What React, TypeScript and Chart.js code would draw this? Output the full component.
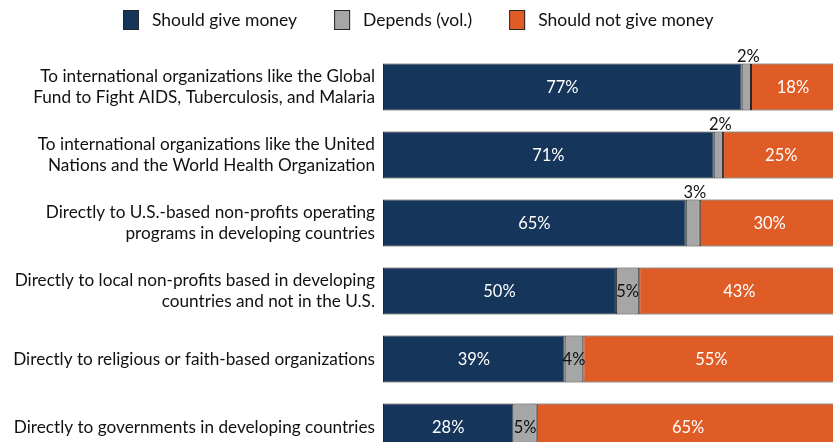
import React, { useEffect, useRef } from "react";
import { Chart, registerables } from "chart.js";

Chart.register(...registerables);

const categories: string[][] = [
  ["To international organizations like the Global", "Fund to Fight AIDS, Tuberculosis, and Malaria"],
  ["To international organizations like the United", "Nations and the World Health Organization"],
  ["Directly to U.S.-based non-profits operating", "programs in developing countries"],
  ["Directly to local non-profits based in developing", "countries and not in the U.S."],
  ["Directly to religious or faith-based organizations"],
  ["Directly to governments in developing countries"],
];
const seriesNames = ["Should give money", "Depends (vol.)", "Should not give money"];
const shouldGive = [77, 71, 65, 50, 39, 28];
const depends = [2, 2, 3, 5, 4, 5];
const shouldNotGive = [18, 25, 30, 43, 55, 65];

const COLORS = ["#15355a", "#a6a6a6", "#e05c27"];
const BORDER = "#262626";
const FONT = "Lato";

const labelPlugin = {
  id: "segLabels",
  afterDatasetsDraw(chart: any) {
    const ctx = chart.ctx;
    ctx.save();
    ctx.font = `16.5px ${FONT}`;
    ctx.textAlign = "center";
    ctx.textBaseline = "middle";
    chart.data.datasets.forEach((ds: any, di: number) => {
      const meta = chart.getDatasetMeta(di);
      meta.data.forEach((el: any, i: number) => {
        const v = ds.data[i];
        const cx = (el.x + el.base) / 2;
        let cy = el.y;
        if (di === 1) {
          ctx.fillStyle = "#111";
          if (v < 4) {
            cy = el.y - el.height / 2 - 7;
            ctx.fillText(`${v}%`, cx + 2, cy);
            return;
          }
        } else {
          ctx.fillStyle = "#ffffff";
        }
        ctx.fillText(`${v}%`, cx, cy + 1);
      });
    });
    ctx.restore();
  },
};

const legendPlugin = {
  id: "customLegend",
  afterDraw(chart: any) {
    const ctx = chart.ctx;
    ctx.save();
    ctx.font = `17.5px ${FONT}`;
    ctx.textBaseline = "middle";
    ctx.textAlign = "left";
    let x = 123;
    const y = 20;
    chart.data.datasets.forEach((ds: any) => {
      ctx.fillStyle = ds.backgroundColor;
      ctx.fillRect(x, y - 10, 16, 20);
      ctx.strokeStyle = BORDER;
      ctx.lineWidth = 1;
      ctx.strokeRect(x + 0.5, y - 9.5, 15, 19);
      ctx.fillStyle = "#111";
      ctx.fillText(ds.label, x + 29, y);
      x += 29 + ctx.measureText(ds.label).width + 37;
    });
    ctx.restore();
  },
};

export default function App() {
  const ref = useRef<HTMLCanvasElement | null>(null);
  useEffect(() => {
    if (!ref.current) return;
    const chart = new Chart(ref.current, {
      type: "bar",
      data: {
        labels: categories,
        datasets: [
          { label: seriesNames[0], data: shouldGive, backgroundColor: COLORS[0] },
          { label: seriesNames[1], data: depends, backgroundColor: COLORS[1] },
          { label: seriesNames[2], data: shouldNotGive, backgroundColor: COLORS[2] },
        ].map((d) => ({
          ...d,
          borderColor: BORDER,
          borderWidth: 1,
          borderSkipped: false,
          categoryPercentage: 1,
          barPercentage: 0.693,
        })),
      },
      options: {
        indexAxis: "y",
        responsive: false,
        animation: false,
        devicePixelRatio: 1,
        layout: { padding: { top: 53, right: 0, bottom: 0, left: 0 } },
        plugins: { legend: { display: false }, tooltip: { enabled: false } },
        scales: {
          x: {
            stacked: true,
            min: 0,
            max: 96.6,
            display: false,
          },
          y: {
            stacked: true,
            grid: { display: false, drawTicks: false },
            border: { display: false },
            ticks: {
              color: "#111",
              padding: 8,
              font: { family: FONT, size: 17.2, lineHeight: 1.22 },
            },
            afterFit(scale: any) {
              scale.width = 383;
            },
          },
        },
      },
      plugins: [labelPlugin, legendPlugin],
    });
    return () => chart.destroy();
  }, []);
  return (
    <div style={{ position: "fixed", left: 0, top: 0, width: 833, height: 442, overflow: "hidden", background: "#fff" }}>
      <canvas ref={ref} width={833} height={490} />
    </div>
  );
}
